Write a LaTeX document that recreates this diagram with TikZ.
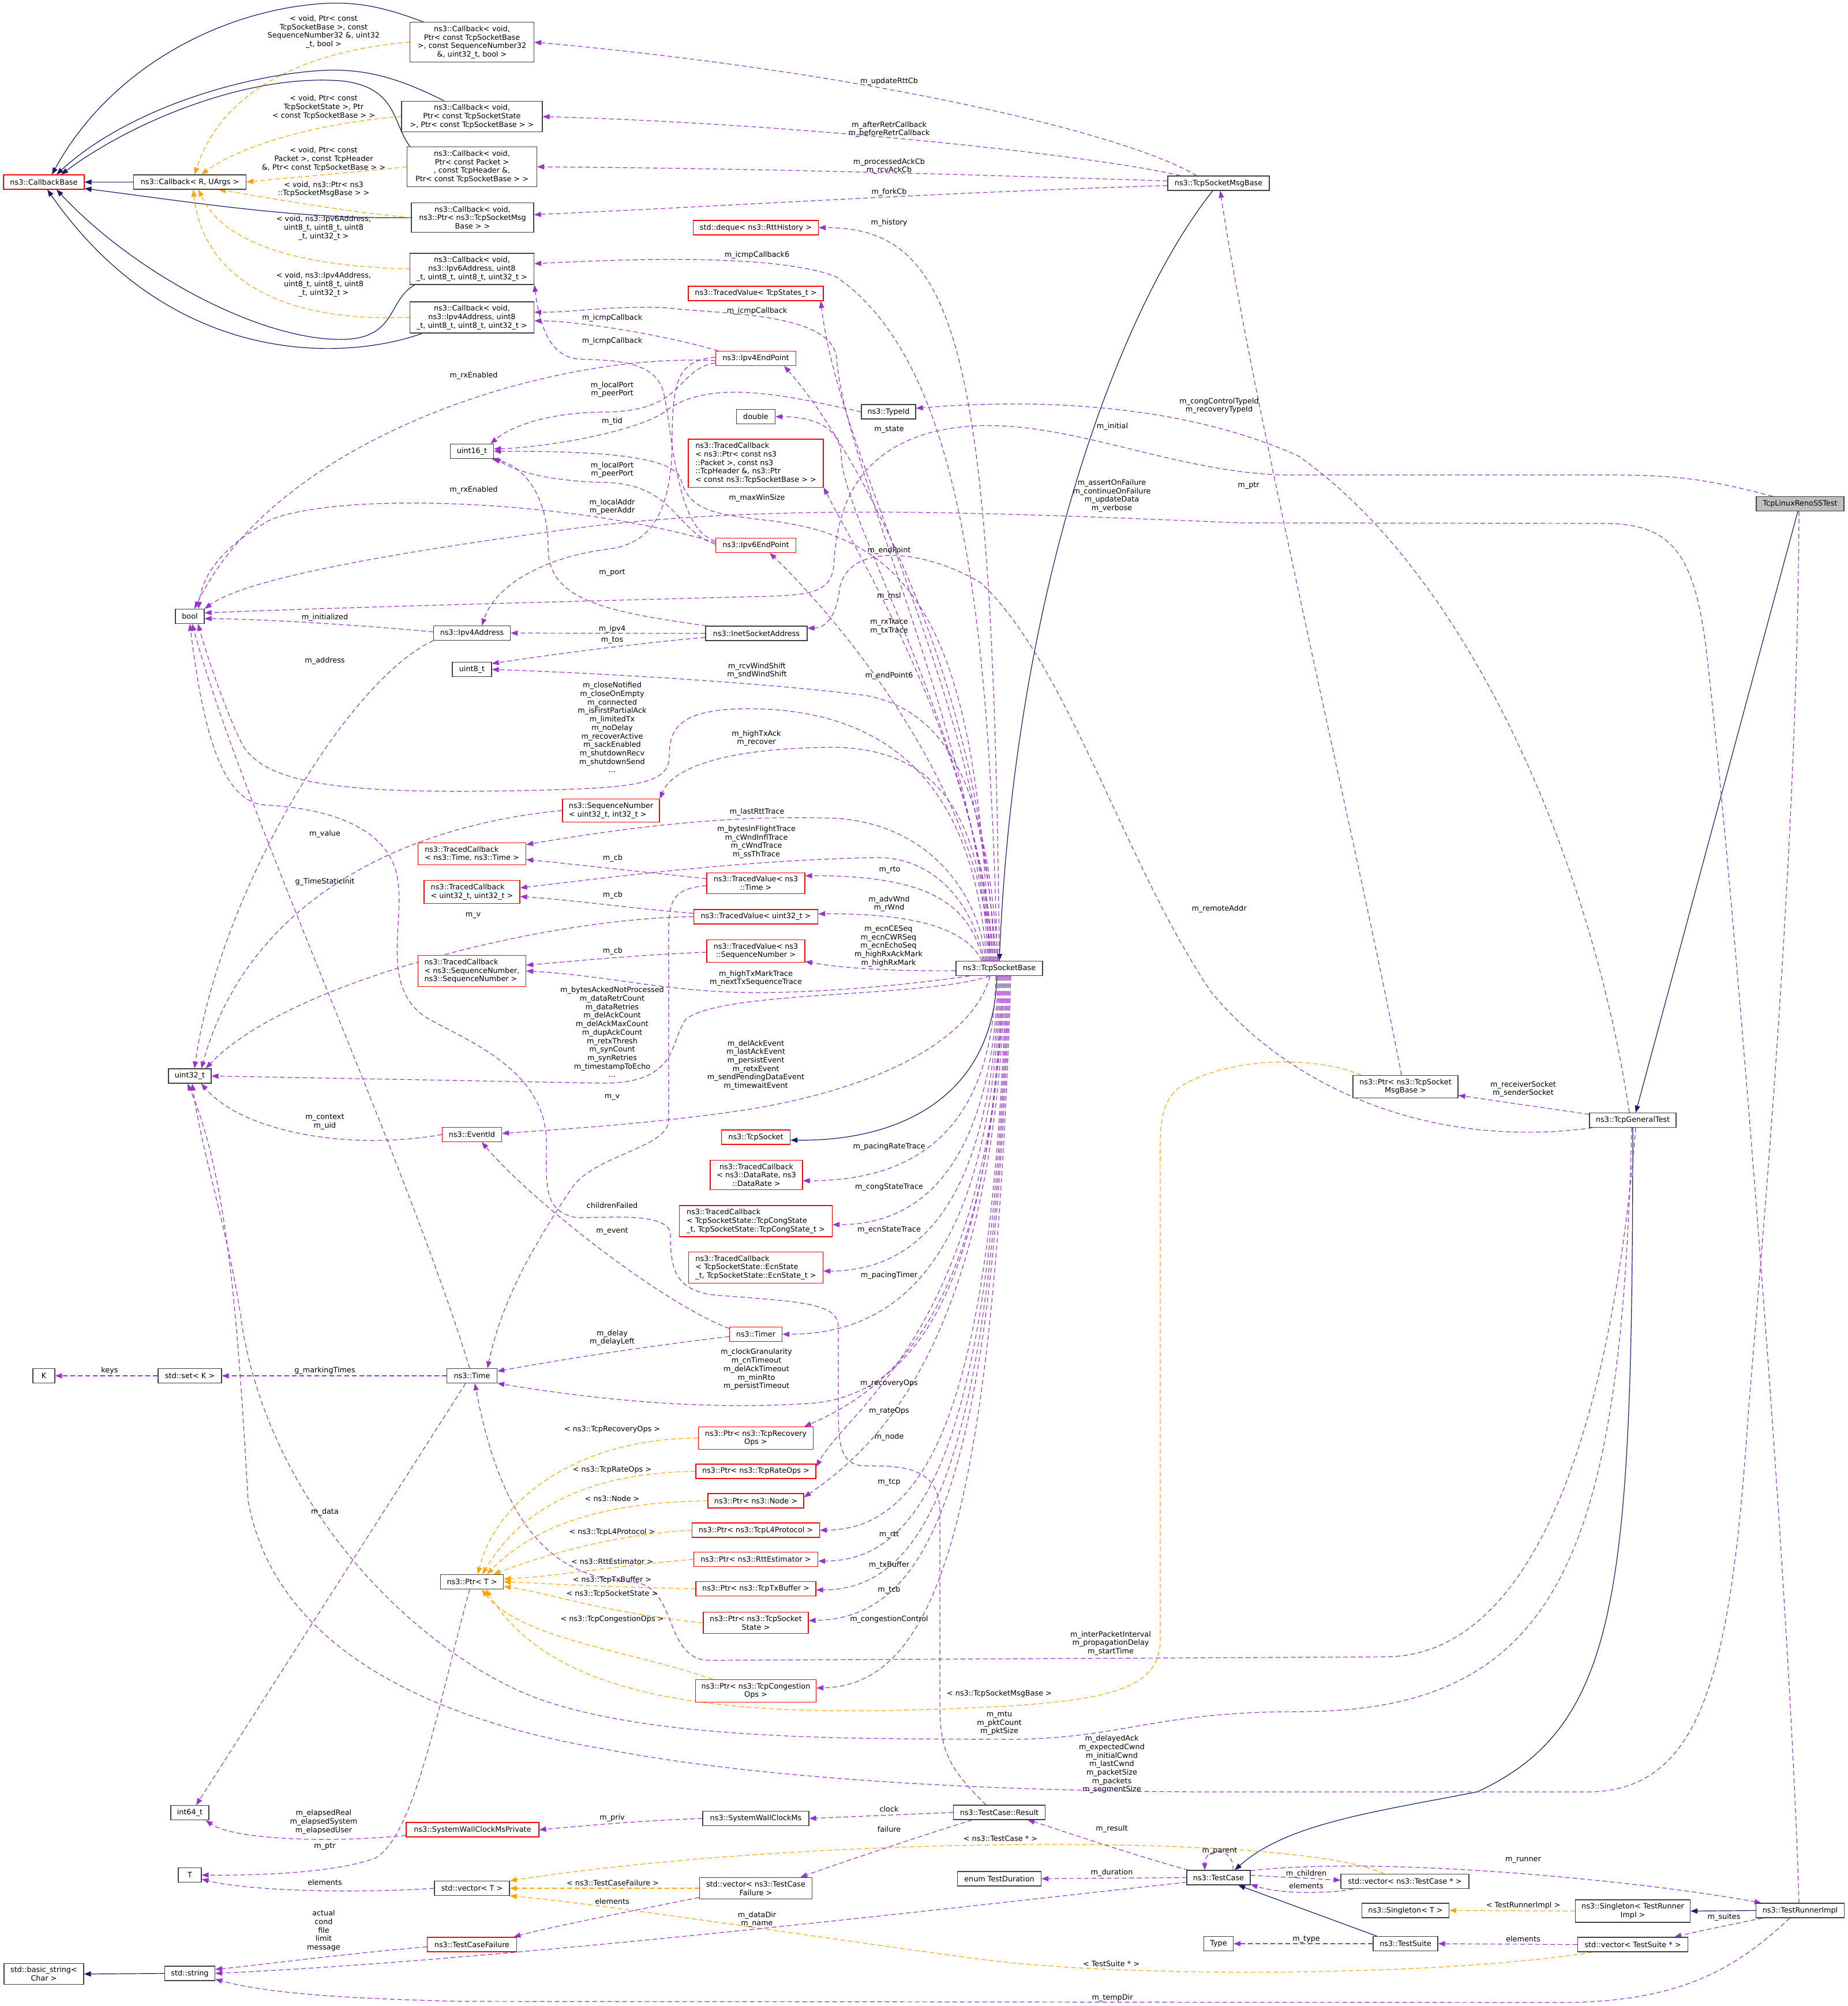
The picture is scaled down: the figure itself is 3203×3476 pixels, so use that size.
\documentclass[tikz,border=0pt]{standalone}
\usepackage{fontspec}
\usetikzlibrary{arrows.meta,calc}
\newfontfamily\doxfamily{DejaVu Sans}
\newcommand\doxfont{\doxfamily\fontsize{12.8}{14.7}\selectfont}
\definecolor{usecol}{HTML}{9A32CD}
\definecolor{inhcol}{HTML}{191970}
\definecolor{tplcol}{HTML}{FFA500}
\definecolor{boxline}{HTML}{404040}
\pgfdeclarelayer{edges}
\pgfsetlayers{edges,main}
\begin{document}
\begin{tikzpicture}[x=1pt,y=-1pt,
    cls/.style={draw=boxline, fill=white, line width=1.2pt, font=\doxfont, align=center,
        inner xsep=8pt, inner ysep=6pt, minimum height=25pt},
    redcls/.style={cls, draw=red},
    elbl/.style={font=\doxfont, align=center, inner sep=0pt},
    usage/.style={draw=usecol, line width=1.2pt, dash pattern=on 8pt off 5pt,
        -{Triangle[length=12pt,width=9pt]}},
    inherit/.style={draw=inhcol, line width=1.2pt, -{Triangle[length=12pt,width=9pt]}},
    templ/.style={draw=tplcol, line width=1.2pt, dash pattern=on 8pt off 5pt,
        -{Triangle[length=12pt,width=9pt]}}]
\useasboundingbox (0,0) rectangle (3203,3476);

\node[redcls, minimum width=140pt] (cbBase) at (76,315.5) {ns3::CallbackBase};
\node[cls, minimum width=195pt] (cbRU) at (329,315.5) {ns3::Callback< R, UArgs >};
\node[cls, minimum width=215pt] (cb1) at (818,73) {ns3::Callback< void,\\Ptr< const TcpSocketBase\\>, const SequenceNumber32\\\&, uint32\_t, bool >};
\node[cls, minimum width=244pt] (cb2) at (818,202) {ns3::Callback< void,\\Ptr< const TcpSocketState\\>, Ptr< const TcpSocketBase > >};
\node[cls, minimum width=225pt] (cb3) at (818,289) {ns3::Callback< void,\\Ptr< const Packet >\\, const TcpHeader \&,\\Ptr< const TcpSocketBase > >};
\node[cls, minimum width=212pt] (cb4) at (819,377) {ns3::Callback< void,\\ns3::Ptr< ns3::TcpSocketMsg\\Base > >};
\node[cls, minimum width=215pt] (cb5) at (818,466) {ns3::Callback< void,\\ns3::Ipv6Address, uint8\\\_t, uint8\_t, uint8\_t, uint32\_t >};
\node[cls, minimum width=215pt] (cb6) at (818,550) {ns3::Callback< void,\\ns3::Ipv4Address, uint8\\\_t, uint8\_t, uint8\_t, uint32\_t >};
\node[cls, minimum width=75pt] (u16) at (818,782) {uint16\_t};
\node[cls, minimum width=50pt] (boolN) at (329,1068) {bool};
\node[cls, minimum width=133pt] (ipv4) at (818,1097) {ns3::Ipv4Address};
\node[cls, minimum width=68pt] (u8) at (818,1160) {uint8\_t};
\node[cls, minimum width=176pt] (msgBase) at (2112,317.5) {ns3::TcpSocketMsgBase};
\node[redcls, minimum width=217pt] (deque) at (1310,394.5) {std::deque< ns3::RttHistory >};
\node[redcls, minimum width=234pt] (tvStates) at (1310,508.5) {ns3::TracedValue< TcpStates\_t >};
\node[redcls, minimum width=139pt] (ep4) at (1310,621) {ns3::Ipv4EndPoint};
\node[cls, minimum width=67pt] (dbl) at (1310,722) {double};
\node[cls, minimum width=94pt] (typeId) at (1540,713.5) {ns3::TypeId};
\node[redcls, minimum width=234pt, align=left] (tcPkt) at (1310,802.5) {ns3::TracedCallback\\< ns3::Ptr< const ns3\\::Packet >, const ns3\\::TcpHeader \&, ns3::Ptr\\< const ns3::TcpSocketBase > >};
\node[redcls, minimum width=139pt] (ep6) at (1310,945) {ns3::Ipv6EndPoint};
\node[cls, minimum width=176pt] (inet) at (1311,1097.5) {ns3::InetSocketAddress};
\node[cls, minimum width=152pt, fill=black!25] (reno) at (3120,873) {TcpLinuxRenoSSTest};
\node[redcls, minimum width=168pt, align=left] (seqNum) at (1059,1404.5) {ns3::SequenceNumber\\< uint32\_t, int32\_t >};
\node[redcls, minimum width=187pt, align=left] (tcTime) at (818,1479.5) {ns3::TracedCallback\\< ns3::Time, ns3::Time >};
\node[redcls, minimum width=166pt, align=left] (tcU32) at (818,1545.5) {ns3::TracedCallback\\< uint32\_t, uint32\_t >};
\node[redcls, minimum width=187pt, align=left] (tcSeq) at (818,1682.5) {ns3::TracedCallback\\< ns3::SequenceNumber,\\ ns3::SequenceNumber >};
\node[cls, minimum width=74pt] (u32) at (329,1864.5) {uint32\_t};
\node[redcls, minimum width=103pt] (eventId) at (818,1966) {ns3::EventId};
\node[redcls, minimum width=170pt] (tvTime) at (1310,1530.5) {ns3::TracedValue< ns3\\::Time >};
\node[redcls, minimum width=215pt] (tvU32) at (1310,1588.5) {ns3::TracedValue< uint32\_t >};
\node[redcls, minimum width=170pt] (tvSeq) at (1310,1648) {ns3::TracedValue< ns3\\::SequenceNumber >};
\node[cls, minimum width=150pt] (tsb) at (1732,1678) {ns3::TcpSocketBase};
\node[redcls, minimum width=119pt] (tcpSock) at (1310,1970.5) {ns3::TcpSocket};
\node[redcls, minimum width=160pt] (tcRate) at (1311,2036) {ns3::TracedCallback\\< ns3::DataRate, ns3\\::DataRate >};
\node[redcls, minimum width=265pt, align=left] (tcCong) at (1310,2116) {ns3::TracedCallback\\< TcpSocketState::TcpCongState\\\_t, TcpSocketState::TcpCongState\_t >};
\node[redcls, minimum width=233pt, align=left] (tcEcn) at (1310,2196.5) {ns3::TracedCallback\\< TcpSocketState::EcnState\\\_t, TcpSocketState::EcnState\_t >};
\node[redcls, minimum width=91pt] (timer) at (1310,2312) {ns3::Timer};
\node[cls, minimum width=182pt] (ptrMsg) at (2436,1883) {ns3::Ptr< ns3::TcpSocket\\MsgBase >};
\node[cls, minimum width=150pt] (genTest) at (2830,1941) {ns3::TcpGeneralTest};
\node[cls, minimum width=38pt] (kN) at (76,2384) {K};
\node[cls, minimum width=110pt] (setK) at (329,2384) {std::set< K >};
\node[cls, minimum width=87pt] (timeN) at (818,2384) {ns3::Time};
\node[cls, minimum width=109pt] (ptrT) at (818,2741) {ns3::Ptr< T >};
\node[cls, minimum width=66pt] (i64) at (329,3141) {int64\_t};
\node[redcls, minimum width=230pt] (swcPriv) at (819,3170.5) {ns3::SystemWallClockMsPrivate};
\node[cls, minimum width=40pt] (tN) at (329,3249) {T};
\node[cls, minimum width=130pt] (vecT) at (818,3272) {std::vector< T >};
\node[redcls, minimum width=155pt] (tcFail) at (818,3369.5) {ns3::TestCaseFailure};
\node[cls, minimum width=138pt] (bstr) at (76,3420.5) {std::basic\_string<\\Char >};
\node[cls, minimum width=87pt] (str) at (329,3419.5) {std::string};
\node[redcls, minimum width=199pt] (pRec) at (1310,2492) {ns3::Ptr< ns3::TcpRecovery\\Ops >};
\node[redcls, minimum width=208pt] (pRate) at (1310,2549.5) {ns3::Ptr< ns3::TcpRateOps >};
\node[redcls, minimum width=166pt] (pNode) at (1310,2600.5) {ns3::Ptr< ns3::Node >};
\node[redcls, minimum width=221pt] (pL4) at (1310,2651.5) {ns3::Ptr< ns3::TcpL4Protocol >};
\node[redcls, minimum width=215pt] (pRtt) at (1310,2702) {ns3::Ptr< ns3::RttEstimator >};
\node[redcls, minimum width=208pt] (pTx) at (1310,2753) {ns3::Ptr< ns3::TcpTxBuffer >};
\node[redcls, minimum width=182pt] (pTcb) at (1310,2812) {ns3::Ptr< ns3::TcpSocket\\State >};
\node[redcls, minimum width=209pt] (pCong) at (1310,2930) {ns3::Ptr< ns3::TcpCongestion\\Ops >};
\node[cls, minimum width=159pt] (result) at (1732,3140.5) {ns3::TestCase::Result};
\node[cls, minimum width=184pt] (swc) at (1310,3151) {ns3::SystemWallClockMs};
\node[cls, minimum width=195pt] (vecFail) at (1310,3272) {std::vector< ns3::TestCase\\Failure >};
\node[cls, minimum width=145pt] (dur) at (1732,3255.5) {enum TestDuration};
\node[cls, minimum width=110pt] (testCase) at (2112,3253.5) {ns3::TestCase};
\node[cls, minimum width=51pt] (typeN) at (2112,3368) {Type};
\node[cls, minimum width=222pt] (vecTC) at (2435,3260) {std::vector< ns3::TestCase * >};
\node[cls, minimum width=151pt] (singT) at (2436,3310.5) {ns3::Singleton< T >};
\node[cls, minimum width=199pt] (singR) at (2830,3311.5) {ns3::Singleton< TestRunner\\Impl >};
\node[cls, minimum width=153pt] (runner) at (3120,3310.5) {ns3::TestRunnerImpl};
\node[cls, minimum width=112pt] (suite) at (2436,3368) {ns3::TestSuite};
\node[cls, minimum width=191pt] (vecTS) at (2830,3369.5) {std::vector< TestSuite * >};

\node[elbl] (lT1) at (561,55) {< void, Ptr< const\\TcpSocketBase >, const\\SequenceNumber32 \&, uint32\\\_t, bool >};
\node[elbl] (lT2) at (561,186) {< void, Ptr< const\\TcpSocketState >, Ptr\\< const TcpSocketBase > >};
\node[elbl] (lT3) at (561,276) {< void, Ptr< const\\Packet >, const TcpHeader\\\&, Ptr< const TcpSocketBase > >};
\node[elbl] (lT4) at (561,328) {< void, ns3::Ptr< ns3\\::TcpSocketMsgBase > >};
\node[elbl] (lT5) at (561,395) {< void, ns3::Ipv6Address,\\uint8\_t, uint8\_t, uint8\\\_t, uint32\_t >};
\node[elbl] (lT6) at (561,493) {< void, ns3::Ipv4Address,\\uint8\_t, uint8\_t, uint8\\\_t, uint32\_t >};
\node[elbl] (lUpdRtt) at (1541,141) {m\_updateRttCb};
\node[elbl] (lRetr) at (1541,224) {m\_afterRetrCallback\\m\_beforeRetrCallback};
\node[elbl] (lAck) at (1541,288) {m\_processedAckCb\\m\_rcvAckCb};
\node[elbl] (lFork) at (1541,333) {m\_forkCb};
\node[elbl] (lHist) at (1541,386) {m\_history};
\node[elbl] (lIcmp6) at (1312,442) {m\_icmpCallback6};
\node[elbl] (lIcmpA) at (1312,539) {m\_icmpCallback};
\node[elbl] (lIcmpB) at (1061,551) {m\_icmpCallback};
\node[elbl] (lIcmpC) at (1061,591) {m\_icmpCallback};
\node[elbl] (lRx1) at (821,651) {m\_rxEnabled};
\node[elbl] (lPort1) at (1061,675) {m\_localPort\\m\_peerPort};
\node[elbl] (lCongTid) at (2113,703) {m\_congControlTypeId\\m\_recoveryTypeId};
\node[elbl] (lTid) at (1061,730) {m\_tid};
\node[elbl] (lInitial) at (1928,739) {m\_initial};
\node[elbl] (lState) at (1541,745) {m\_state};
\node[elbl] (lPort2) at (1061,814) {m\_localPort\\m\_peerPort};
\node[elbl] (lPtr) at (2164,842) {m\_ptr};
\node[elbl] (lRx2) at (821,849) {m\_rxEnabled};
\node[elbl] (lAssert) at (1927,859) {m\_assertOnFailure\\m\_continueOnFailure\\m\_updateData\\m\_verbose};
\node[elbl] (lMaxWin) at (1312,863) {m\_maxWinSize};
\node[elbl] (lAddr) at (1061,878) {m\_localAddr\\m\_peerAddr};
\node[elbl] (lEndPt) at (1541,954) {m\_endPoint};
\node[elbl] (lPortI) at (1061,993) {m\_port};
\node[elbl] (lMsl) at (1541,1033) {m\_msl};
\node[elbl] (lInitd) at (563,1070) {m\_initialized};
\node[elbl] (lRxTx) at (1541,1086) {m\_rxTrace\\m\_txTrace};
\node[elbl] (lIpv4) at (1061,1090) {m\_ipv4};
\node[elbl] (lTos) at (1061,1110) {m\_tos};
\node[elbl] (lAddress) at (563,1145) {m\_address};
\node[elbl] (lWnd) at (1312,1162) {m\_rcvWindShift\\m\_sndWindShift};
\node[elbl] (lEndPt6) at (1541,1171) {m\_endPoint6};
\node[elbl] (lFlags) at (1061,1260.5) {m\_closeNotified\\m\_closeOnEmpty\\m\_connected\\m\_isFirstPartialAck\\m\_limitedTx\\m\_noDelay\\m\_recoverActive\\m\_sackEnabled\\m\_shutdownRecv\\m\_shutdownSend\\...};
\node[elbl] (lHighAck) at (1311,1279) {m\_highTxAck\\m\_recover};
\node[elbl] (lLastRtt) at (1312,1407) {m\_lastRttTrace};
\node[elbl] (lValue) at (563,1445) {m\_value};
\node[elbl] (lBytes) at (1311,1459) {m\_bytesInFlightTrace\\m\_cWndInflTrace\\m\_cWndTrace\\m\_ssThTrace};
\node[elbl] (lCb1) at (1062,1487) {m\_cb};
\node[elbl] (lRto) at (1542,1507) {m\_rto};
\node[elbl] (lTSI) at (563,1528) {g\_TimeStaticInit};
\node[elbl] (lCb2) at (1062,1551) {m\_cb};
\node[elbl] (lWndA) at (1541,1566) {m\_advWnd\\m\_rWnd};
\node[elbl] (lRemote) at (2113,1575) {m\_remoteAddr};
\node[elbl] (lV1) at (820,1586) {m\_v};
\node[elbl] (lEcn) at (1540,1639.5) {m\_ecnCESeq\\m\_ecnCWRSeq\\m\_ecnEchoSeq\\m\_highRxAckMark\\m\_highRxMark};
\node[elbl] (lCb3) at (1062,1648) {m\_cb};
\node[elbl] (lHighTx) at (1310,1695) {m\_highTxMarkTrace\\m\_nextTxSequenceTrace};
\node[elbl] (lCounts) at (1061,1788.5) {m\_bytesAckedNotProcessed\\m\_dataRetrCount\\m\_dataRetries\\m\_delAckCount\\m\_delAckMaxCount\\m\_dupAckCount\\m\_retxThresh\\m\_synCount\\m\_synRetries\\m\_timestampToEcho\\...};
\node[elbl] (lEvents) at (1310,1845.5) {m\_delAckEvent\\m\_lastAckEvent\\m\_persistEvent\\m\_retxEvent\\m\_sendPendingDataEvent\\m\_timewaitEvent};
\node[elbl] (lRecvSnd) at (2640,1887) {m\_receiverSocket\\m\_senderSocket};
\node[elbl] (lV2) at (1061,1901) {m\_v};
\node[elbl] (lCtx) at (563,1944) {m\_context\\m\_uid};
\node[elbl] (lPacRate) at (1541,1987) {m\_pacingRateTrace};
\node[elbl] (lCongSt) at (1541,2057) {m\_congStateTrace};
\node[elbl] (lChild) at (1061,2089) {childrenFailed};
\node[elbl] (lEcnSt) at (1541,2131) {m\_ecnStateTrace};
\node[elbl] (lEvent) at (1061,2133) {m\_event};
\node[elbl] (lPacTim) at (1541,2210) {m\_pacingTimer};
\node[elbl] (lDelay) at (1061,2318) {m\_delay\\m\_delayLeft};
\node[elbl] (lClock) at (1311,2373) {m\_clockGranularity\\m\_cnTimeout\\m\_delAckTimeout\\m\_minRto\\m\_persistTimeout};
\node[elbl] (lKeys) at (190,2375) {keys};
\node[elbl] (lMark) at (563,2375) {g\_markingTimes};
\node[elbl] (lRecOps) at (1541,2397) {m\_recoveryOps};
\node[elbl] (lRateOps) at (1541,2445) {m\_rateOps};
\node[elbl] (lTRec) at (1061,2477) {< ns3::TcpRecoveryOps >};
\node[elbl] (lNode) at (1541,2490) {m\_node};
\node[elbl] (lTRate) at (1061,2547) {< ns3::TcpRateOps >};
\node[elbl] (lTcp) at (1541,2568) {m\_tcp};
\node[elbl] (lTNode) at (1061,2597) {< ns3::Node >};
\node[elbl] (lData) at (563,2620) {m\_data};
\node[elbl] (lTL4) at (1061,2655) {< ns3::TcpL4Protocol >};
\node[elbl] (lRtt) at (1541,2659) {m\_rtt};
\node[elbl] (lTRtt) at (1061,2706) {< ns3::RttEstimator >};
\node[elbl] (lTxBuf) at (1541,2712) {m\_txBuffer};
\node[elbl] (lTTx) at (1061,2738) {< ns3::TcpTxBuffer >};
\node[elbl] (lTcb) at (1541,2755) {m\_tcb};
\node[elbl] (lTTcb) at (1061,2762) {< ns3::TcpSocketState >};
\node[elbl] (lCongC) at (1541,2806) {m\_congestionControl};
\node[elbl] (lTCong) at (1061,2806) {< ns3::TcpCongestionOps >};
\node[elbl] (lInter) at (1925,2847.5) {m\_interPacketInterval\\m\_propagationDelay\\m\_startTime};
\node[elbl] (lTMsg) at (1732,2935) {< ns3::TcpSocketMsgBase >};
\node[elbl] (lMtu) at (1732,2986) {m\_mtu\\m\_pktCount\\m\_pktSize};
\node[elbl] (lDelAck) at (1927,3057.5) {m\_delayedAck\\m\_expectedCwnd\\m\_initialCwnd\\m\_lastCwnd\\m\_packetSize\\m\_packets\\m\_segmentSize};
\node[elbl] (lClk) at (1541,3135) {clock};
\node[elbl] (lPriv) at (1061,3150) {m\_priv};
\node[elbl] (lElapsed) at (561,3157) {m\_elapsedReal\\m\_elapsedSystem\\m\_elapsedUser};
\node[elbl] (lFailure) at (1541,3170) {failure};
\node[elbl] (lResult) at (1927,3169) {m\_result};
\node[elbl] (lTTC) at (1734,3186) {< ns3::TestCase * >};
\node[elbl] (lMptr) at (563,3199) {m\_ptr};
\node[elbl] (lParent) at (2114,3207) {m\_parent};
\node[elbl] (lRunner) at (2640,3223) {m\_runner};
\node[elbl] (lDur) at (1927,3245) {m\_duration};
\node[elbl] (lChildren) at (2264,3247) {m\_children};
\node[elbl] (lElem1) at (563,3262) {elements};
\node[elbl] (lTFail) at (1062,3263) {< ns3::TestCaseFailure >};
\node[elbl] (lElemTC) at (2264,3268) {elements};
\node[elbl] (lElem2) at (1061,3295) {elements};
\node[elbl] (lTRun) at (2640,3302) {< TestRunnerImpl >};
\node[elbl] (lSuites) at (2988,3322) {m\_suites};
\node[elbl] (lDataDir) at (1312,3326) {m\_dataDir\\m\_name};
\node[elbl] (lActual) at (561,3345.5) {actual\\cond\\file\\limit\\message};
\node[elbl] (lType) at (2264,3360) {m\_type};
\node[elbl] (lElem3) at (2640,3360) {elements};
\node[elbl] (lTSuite) at (1926,3403) {< TestSuite * >};
\node[elbl] (lTemp) at (1928,3462) {m\_tempDir};

\begin{pgfonlayer}{edges}
\draw[inherit] (cbRU.west) -- (cbBase.east);
\draw[inherit] ($(cb1.north west)+(24,0)$) .. controls (680,18) and (630,2) .. (561,6) .. controls (380,18) and (190,120) .. ($(cbBase.north)+(14,0)$);
\draw[inherit] ($(cb2.north west)+(74,0)$) .. controls (700,140) and (640,118) .. (560,122) .. controls (420,130) and (220,190) .. ($(cbBase.north)+(22,0)$);
\draw[inherit] ($(cb3.north west)+(6,0)$) .. controls (680,215) and (690,150) .. (590,140) .. controls (430,128) and (230,210) .. ($(cbBase.north)+(30,0)$);
\draw[inherit] (cb4.west) .. controls (520,381) and (330,350) .. ($(cbBase.south east)+(0,-2)$);
\draw[inherit] ($(cb5.south west)+(9,0)$) .. controls (670,520) and (690,592) .. (582,588) .. controls (440,584) and (230,470) .. ($(cbBase.south)+(22,0)$);
\draw[inherit] ($(cb6.south west)+(22,0)$) .. controls (600,625) and (300,640) .. ($(cbBase.south)+(6,0)$);
\draw[inherit] ($(msgBase.south)+(-10,0)$) .. controls (1950,520) and (1760,1000) .. (tsb.north);
\draw[inherit] ($(tsb.south)+(-4,0)$) .. controls (1722,1900) and (1560,1978) .. ($(tcpSock.east)+(0,5)$);
\draw[inherit] ($(reno.south)+(-4,0)$) -- ($(genTest.north)+(5,0)$);
\draw[inherit] (genTest.south) .. controls (2829,2750) and (2810,2990) .. (2560,3105) .. controls (2380,3140) and (2230,3160) .. ($(testCase.north)+(28,0)$);
\draw[inherit] ($(suite.north west)+(7,0)$) -- ($(testCase.south)+(34,0)$);
\draw[inherit] (runner.west) -- (singR.east);
\draw[inherit] (str.west) -- (bstr.east);

\draw[templ] (cb1.west) .. controls (560,85) and (390,140) .. ($(cbRU.north)+(8,0)$);
\draw[templ] (cb2.west) .. controls (560,212) and (420,250) .. ($(cbRU.north)+(20,0)$);
\draw[templ] (cb3.west) .. controls (600,300) and (500,308) .. (cbRU.east);
\draw[templ] (cb4.west) .. controls (600,368) and (450,340) .. ($(cbRU.south)+(50,0)$);
\draw[templ] (cb5.west) .. controls (540,462) and (390,430) .. ($(cbRU.south)+(15,0)$);
\draw[templ] (cb6.west) .. controls (470,560) and (350,470) .. ($(cbRU.south)+(6,0)$);
\draw[templ] (singR.west) -- (singT.east);
\draw[templ] ($(vecTC.north)+(-36,0)$) .. controls (2250,3175) and (1400,3180) .. (vecT.north east);
\draw[templ] (vecFail.west) -- (vecT.east);
\draw[templ] ($(vecTS.south west)+(26,0)$) .. controls (2500,3425) and (1950,3428) .. (1700,3395) .. controls (1400,3355) and (1050,3300) .. (vecT.south east);
\draw[templ] (pRec.west) .. controls (1000,2492) and (860,2600) .. ($(ptrT.north)+(10,0)$);
\draw[templ] (pRate.west) .. controls (1010,2552) and (900,2620) .. ($(ptrT.north)+(18,0)$);
\draw[templ] (pNode.west) .. controls (1030,2603) and (920,2650) .. ($(ptrT.north)+(26,0)$);
\draw[templ] (pL4.west) .. controls (1050,2660) and (930,2700) .. ($(ptrT.north east)+(-18,0)$);
\draw[templ] (pRtt.west) .. controls (1050,2715) and (950,2733) .. ($(ptrT.east)+(0,-5)$);
\draw[templ] (pTx.west) .. controls (1050,2750) and (950,2744) .. (ptrT.east);
\draw[templ] (pTcb.west) .. controls (1050,2795) and (950,2760) .. ($(ptrT.east)+(0,8)$);
\draw[templ] ($(pCong.north west)+(30,0)$) .. controls (1100,2862) and (900,2840) .. ($(ptrT.south)+(17,0)$);
\draw[templ] ($(ptrMsg.north west)+(15,0)$) .. controls (2280,1830) and (2140,1830) .. (2050,1880) .. controls (2005,1910) and (2011,1960) .. (2011,2050) -- (2011,2840) .. controls (2011,2940) and (1900,2955) .. (1541,2964) .. controls (1200,2970) and (950,2930) .. ($(ptrT.south)+(24,0)$);

\draw[usage] ($(msgBase.north)+(-38,0)$) .. controls (1950,230) and (1500,125) .. (cb1.east);
\draw[usage] ($(msgBase.north)+(-66,0)$) .. controls (1900,270) and (1400,215) .. (cb2.east);
\draw[usage] ($(msgBase.west)+(0,-4)$) .. controls (1600,300) and (1300,292) .. (cb3.east);
\draw[usage] ($(msgBase.west)+(0,4)$) .. controls (1600,335) and (1300,355) .. ($(cb4.east)+(0,-5)$);
\draw[usage] (tsb.north) .. controls (1722,600) and (1660,394) .. (deque.east);
\draw[usage] ($(tsb.north)+(-6,0)$) .. controls (1700,1200) and (1455,800) .. ($(tvStates.south east)+(-5,0)$);
\draw[usage] ($(tsb.north)+(-8,0)$) .. controls (1700,1150) and (1470,760) .. ($(ep4.south east)+(-21,0)$);
\draw[usage] ($(tsb.north)+(-10,0)$) .. controls (1700,1300) and (1460,900) .. (1458,790) .. controls (1456,735) and (1400,722) .. (dbl.east);
\draw[usage] ($(tsb.north)+(-12,0)$) .. controls (1700,1300) and (1480,950) .. (tcPkt.south east);
\draw[usage] ($(tsb.north)+(-14,0)$) .. controls (1700,1350) and (1430,1050) .. ($(ep6.south)+(24,0)$);
\draw[usage] ($(tsb.north)+(-4,0)$) .. controls (1715,1000) and (1650,620) .. (1450,480) .. controls (1350,440) and (1100,448) .. ($(cb5.east)+(0,-9)$);
\draw[usage] ($(tsb.north)+(-16,0)$) .. controls (1700,1300) and (1460,800) .. (1450,620) .. controls (1440,540) and (1250,545) .. (1150,533) .. controls (1050,530) and (1000,541) .. ($(cb6.east)+(0,-9)$);
\draw[usage] ($(tsb.north)+(-18,0)$) .. controls (1700,1150) and (1600,990) .. (1450,930) .. controls (1330,880) and (1200,920) .. (1180,830) .. controls (1165,785) and (1000,782) .. (u16.east);
\draw[usage] ($(tsb.north)+(-2,0)$) .. controls (1712,1400) and (1660,1235) .. (1500,1205) .. controls (1300,1180) and (1000,1165) .. (u8.east);
\draw[usage] ($(tsb.north)+(-20,0)$) .. controls (1705,1450) and (1650,1300) .. (1450,1295) .. controls (1260,1295) and (1165,1330) .. (seqNum.north east);
\draw[usage] ($(tsb.north)+(-22,0)$) .. controls (1690,1380) and (1560,1230) .. (1300,1228) .. controls (1180,1228) and (1160,1260) .. (1160,1310) .. controls (1160,1360) and (1100,1366) .. (900,1370) .. controls (600,1376) and (460,1360) .. (420,1290) .. controls (390,1230) and (360,1140) .. ($(boolN.south)+(14,0)$);
\draw[usage] ($(tsb.north)+(-24,0)$) .. controls (1700,1560) and (1620,1430) .. (1450,1418) .. controls (1250,1410) and (1050,1440) .. ($(tcTime.east)+(0,-16)$);
\draw[usage] ($(tsb.north)+(-26,0)$) .. controls (1690,1580) and (1630,1486) .. (1520,1486) .. controls (1300,1490) and (1100,1515) .. ($(tcU32.east)+(0,-7)$);
\draw[usage] ($(tsb.north)+(-28,0)$) .. controls (1680,1560) and (1600,1517) .. ($(tvTime.east)+(0,-13)$);
\draw[usage] ($(tsb.north)+(-30,0)$) .. controls (1670,1600) and (1560,1583) .. ($(tvU32.east)+(0,-5)$);
\draw[usage] ($(tsb.west)+(0,4)$) .. controls (1550,1683) and (1460,1678) .. ($(tvSeq.east)+(0,18)$);
\draw[usage] ($(tsb.south west)+(24,0)$) .. controls (1620,1700) and (1450,1721) .. (1300,1720) .. controls (1150,1718) and (1050,1690) .. (tcSeq.east);
\draw[usage] ($(tsb.south west)+(59,0)$) .. controls (1600,1730) and (1260,1715) .. (1190,1765) .. controls (1160,1800) and (1180,1875) .. (1050,1877) -- (u32.east);
\draw[usage] ($(tsb.south)+(-16,0)$) .. controls (1690,1790) and (1550,1880) .. (1300,1922) .. controls (1150,1945) and (1000,1955) .. ($(eventId.east)+(0,-2)$);
\draw[usage] ($(tsb.south)+(-6,0)$) .. controls (1722,1900) and (1640,2046) .. ($(tcRate.east)+(0,10)$);
\draw[usage] ($(tsb.south)+(-2,0)$) .. controls (1722,1950) and (1640,2122) .. ($(tcCong.east)+(0,6)$);
\draw[usage] (tsb.south) .. controls (1722,2000) and (1640,2202) .. ($(tcEcn.east)+(0,6)$);
\draw[usage] ($(tsb.south)+(2,0)$) .. controls (1722,2080) and (1620,2312) .. (timer.east);
\draw[usage] ($(tsb.south)+(4,0)$) .. controls (1722,2150) and (1620,2420) .. (1400,2432) .. controls (1200,2445) and (1000,2420) .. ($(timeN.east)+(0,13)$);
\draw[usage] ($(tsb.south)+(6,0)$) .. controls (1722,2250) and (1560,2400) .. ($(pRec.north east)+(-16,0)$);
\draw[usage] ($(tsb.south)+(8,0)$) .. controls (1722,2300) and (1470,2440) .. ($(pRate.east)+(0,-8)$);
\draw[usage] ($(tsb.south)+(10,0)$) .. controls (1722,2350) and (1500,2520) .. ($(pNode.east)+(0,-6)$);
\draw[usage] ($(tsb.south)+(12,0)$) .. controls (1722,2400) and (1620,2650) .. (pL4.east);
\draw[usage] ($(tsb.south)+(14,0)$) .. controls (1722,2450) and (1620,2705) .. ($(pRtt.east)+(0,3)$);
\draw[usage] ($(tsb.south)+(16,0)$) .. controls (1722,2500) and (1620,2755) .. ($(pTx.east)+(0,2)$);
\draw[usage] ($(tsb.south)+(18,0)$) .. controls (1722,2550) and (1620,2805) .. ($(pTcb.east)+(0,-4)$);
\draw[usage] ($(tsb.south)+(20,0)$) .. controls (1722,2650) and (1620,2920) .. ($(pCong.east)+(0,-5)$);

\draw[usage] ($(ep4.north west)+(5,0)$) .. controls (1150,580) and (1000,556) .. ($(cb6.east)+(0,6)$);
\draw[usage] ($(ep6.west)+(0,-8)$) .. controls (1170,920) and (1165,740) .. (1150,680) .. controls (1135,620) and (1050,625) .. (1000,622) .. controls (950,615) and (935,560) .. (cb5.south east);
\draw[usage] ($(ep4.west)+(0,4)$) .. controls (950,610) and (480,760) .. ($(boolN.north)+(8,0)$);
\draw[usage] ($(ep6.west)+(0,-5)$) .. controls (1000,868) and (600,850) .. (470,900) .. controls (380,950) and (350,1000) .. ($(boolN.north)+(15,0)$);
\draw[usage] ($(ep4.west)+(0,8)$) .. controls (1170,640) and (1190,712) .. (1050,714) .. controls (960,714) and (890,735) .. ($(u16.north east)+(-6,0)$);
\draw[usage] ($(ep6.west)+(0,-2)$) .. controls (1170,920) and (1170,840) .. (1050,836) .. controls (960,834) and (900,820) .. ($(u16.south east)+(0,-2)$);
\draw[usage] (typeId.west) .. controls (1380,690) and (1230,650) .. (1150,715) .. controls (1100,748) and (950,775) .. ($(u16.east)+(0,-4)$);
\draw[usage] ($(inet.north west)+(2,0)$) .. controls (1050,1060) and (950,1040) .. (950,950) .. controls (950,850) and (900,805) .. ($(u16.south east)+(-4,0)$);
\draw[usage] ($(ep4.west)+(0,-2)$) .. controls (1180,625) and (1165,650) .. (1165,760) .. controls (1165,900) and (1120,945) .. (1050,952) .. controls (950,965) and (860,1010) .. ($(ipv4.north east)+(-50,0)$);
\draw[usage] (inet.west) -- (ipv4.east);
\draw[usage] ($(inet.west)+(0,7)$) .. controls (1100,1115) and (950,1135) .. ($(u8.north east)+(0,3)$);
\draw[usage] ($(ipv4.west)+(0,-2)$) .. controls (650,1085) and (450,1072) .. ($(boolN.east)+(0,4)$);
\draw[usage] (ipv4.south west) .. controls (600,1180) and (380,1550) .. ($(u32.north)+(8,0)$);
\draw[usage] (seqNum.west) .. controls (700,1430) and (430,1560) .. ($(u32.north)+(20,0)$);
\draw[usage] (tvU32.west) .. controls (950,1590) and (500,1700) .. ($(u32.north east)+(-10,0)$);
\draw[usage] (eventId.west) .. controls (600,1995) and (420,1960) .. ($(u32.south east)+(-18,0)$);
\draw[usage] ($(tvTime.west)+(0,-8)$) .. controls (1150,1515) and (1000,1498) .. ($(tcTime.east)+(0,10)$);
\draw[usage] ($(tvU32.west)+(0,-6)$) .. controls (1100,1575) and (1000,1560) .. ($(tcU32.east)+(0,8)$);
\draw[usage] ($(tvSeq.west)+(0,2)$) .. controls (1100,1655) and (1000,1665) .. ($(tcSeq.east)+(0,-10)$);
\draw[usage] ($(tvTime.west)+(0,4)$) .. controls (1165,1540) and (1159,1560) .. (1159,1620) -- (1159,1940) .. controls (1159,1990) and (1030,2000) .. (990,2060) .. controls (930,2150) and (870,2250) .. ($(timeN.north)+(27,0)$);
\draw[usage] ($(timer.north west)+(0,3)$) .. controls (1150,2260) and (920,2080) .. ($(eventId.south)+(17,0)$);
\draw[usage] ($(timer.west)+(0,4)$) .. controls (1100,2335) and (950,2360) .. ($(timeN.east)+(0,-8)$);
\draw[usage] ($(timeN.north)+(-4,0)$) .. controls (700,2000) and (420,1400) .. ($(boolN.south)+(4,0)$);
\draw[usage] ($(timeN.south)+(-11,0)$) -- ($(i64.north)+(11,0)$);
\draw[usage] (timeN.west) -- (setK.east);
\draw[usage] (setK.west) -- (kN.east);
\draw[usage] ($(genTest.south)+(5,0)$) .. controls (2790,2500) and (2650,2871) .. (2400,2871) -- (1230,2877) .. controls (1150,2877) and (1175,2750) .. (1100,2742) .. controls (1000,2735) and (880,2700) .. ($(timeN.south)+(5,0)$);
\draw[usage] ($(genTest.south)+(-2,0)$) .. controls (2810,2700) and (2700,2966) .. (2250,2966) .. controls (2000,2966) and (1950,3012) .. (1751,3014) .. controls (1500,3012) and (1100,3020) .. (900,2930) .. controls (700,2840) and (470,2600) .. (420,2300) .. controls (400,2150) and (350,2000) .. ($(u32.south)+(4,0)$);
\draw[usage] ($(reno.south)+(-2,0)$) .. controls (3115,1500) and (3050,2200) .. (3030,2450) .. controls (3000,2900) and (2950,3105) .. (2750,3105) -- (2150,3105) .. controls (1700,3106) and (1300,3080) .. (1050,3031) .. controls (800,2990) and (480,2880) .. (430,2600) .. controls (415,2350) and (400,2050) .. ($(u32.south)+(-4,0)$);
\draw[usage] ($(runner.north)+(-2,0)$) .. controls (3100,2700) and (3000,1500) .. (2960,1150) .. controls (2940,960) and (2900,907) .. (2780,907) -- (2150,906) .. controls (1750,890) and (1350,870) .. (1000,915) .. controls (700,955) and (430,1000) .. (boolN.north east);
\draw[usage] ($(reno.north west)+(29,0)$) .. controls (2950,828) and (2900,823) .. (2780,823) -- (2220,823) .. controls (2000,815) and (1800,700) .. (1611,750) .. controls (1470,790) and (1450,900) .. (1445,980) .. controls (1440,1030) and (1400,1032) .. (1300,1034) .. controls (1000,1042) and (600,1052) .. ($(boolN.east)+(0,-6)$);
\draw[usage] ($(result.north)+(-23,0)$) .. controls (1640,3060) and (1629,3030) .. (1629,2950) -- (1629,2620) .. controls (1629,2540) and (1560,2540) .. (1500,2540) .. controls (1460,2540) and (1453,2510) .. (1453,2450) -- (1453,2300) .. controls (1453,2260) and (1400,2256) .. (1250,2245) .. controls (1170,2240) and (1162,2200) .. (1162,2140) .. controls (1162,2100) and (1060,2110) .. (1000,2110) .. controls (940,2100) and (947,2050) .. (947,1980) .. controls (947,1850) and (800,1800) .. (737,1762) .. controls (660,1710) and (700,1600) .. (690,1530) .. controls (680,1430) and (560,1400) .. (460,1395) .. controls (380,1390) and (350,1250) .. (boolN.south);
\draw[usage] (result.west) -- (swc.east);
\draw[usage] ($(result.south west)+(33,0)$) .. controls (1600,3180) and (1450,3230) .. ($(vecFail.north east)+(-21,0)$);
\draw[usage] (swc.west) .. controls (1100,3155) and (1000,3165) .. (swcPriv.east);
\draw[usage] ($(swcPriv.west)+(0,10)$) .. controls (550,3195) and (400,3185) .. ($(i64.south east)+(-6,0)$);
\draw[usage] ($(ptrT.south)+(-4,0)$) .. controls (760,2950) and (720,3180) .. (650,3220) .. controls (580,3245) and (450,3250) .. (tN.east);
\draw[usage] (vecT.west) .. controls (600,3282) and (420,3275) .. ($(tN.east)+(0,7)$);
\draw[usage] ($(vecFail.south west)+(0,-3)$) .. controls (1100,3310) and (950,3340) .. ($(tcFail.north east)+(-6,0)$);
\draw[usage] ($(tcFail.west)+(0,4)$) .. controls (600,3385) and (450,3405) .. ($(str.east)+(0,-7)$);
\draw[usage] ($(testCase.west)+(0,8)$) .. controls (1700,3300) and (900,3395) .. (str.east);
\draw[usage] ($(runner.south)+(-18,0)$) .. controls (3000,3420) and (2900,3470) .. (2700,3470) -- (800,3468) .. controls (550,3462) and (450,3450) .. ($(str.south east)+(0,-3)$);
\draw[usage] ($(testCase.north west)+(3,0)$) .. controls (1950,3210) and (1850,3175) .. ($(result.south east)+(-31,0)$);
\draw[usage] (testCase.west) -- (dur.east);
\draw[usage] ($(testCase.north)+(25,0)$) .. controls (2140,3200) and (2088,3200) .. ($(testCase.north)+(-24,0)$);
\draw[usage] ($(testCase.east)+(0,-4)$) -- ($(vecTC.west)+(0,-2)$);
\draw[usage] ($(vecTC.south west)+(22,0)$) .. controls (2300,3282) and (2220,3282) .. ($(testCase.east)+(0,12)$);
\draw[usage] ($(testCase.east)+(0,-12)$) .. controls (2400,3215) and (2850,3260) .. ($(runner.north west)+(10,0)$);
\draw[usage] ($(runner.south west)+(12,0)$) .. controls (3000,3335) and (2950,3345) .. ($(vecTS.north east)+(-24,0)$);
\draw[usage] (vecTS.west) -- (suite.east);
\draw[usage] (suite.west) -- (typeN.east);
\draw[usage] ($(genTest.north)+(-6,0)$) .. controls (2760,1500) and (2550,1000) .. (2250,790) .. controls (2050,700) and (1800,690) .. ($(typeId.east)+(0,-6)$);
\draw[usage] ($(genTest.west)+(0,-10)$) -- ($(ptrMsg.east)+(0,15)$);
\draw[usage] ($(ptrMsg.north)+(-7,0)$) .. controls (2360,1500) and (2170,700) .. ($(msgBase.south)+(3,0)$);
\draw[usage] ($(genTest.south west)+(6,0)$) .. controls (2500,1990) and (2250,1900) .. (2100,1720) .. controls (1950,1500) and (1850,1150) .. (1700,1010) .. controls (1600,950) and (1470,940) .. (1455,1020) .. controls (1450,1070) and (1430,1088) .. ($(inet.east)+(0,-9)$);
\end{pgfonlayer}
\end{tikzpicture}
\end{document}
